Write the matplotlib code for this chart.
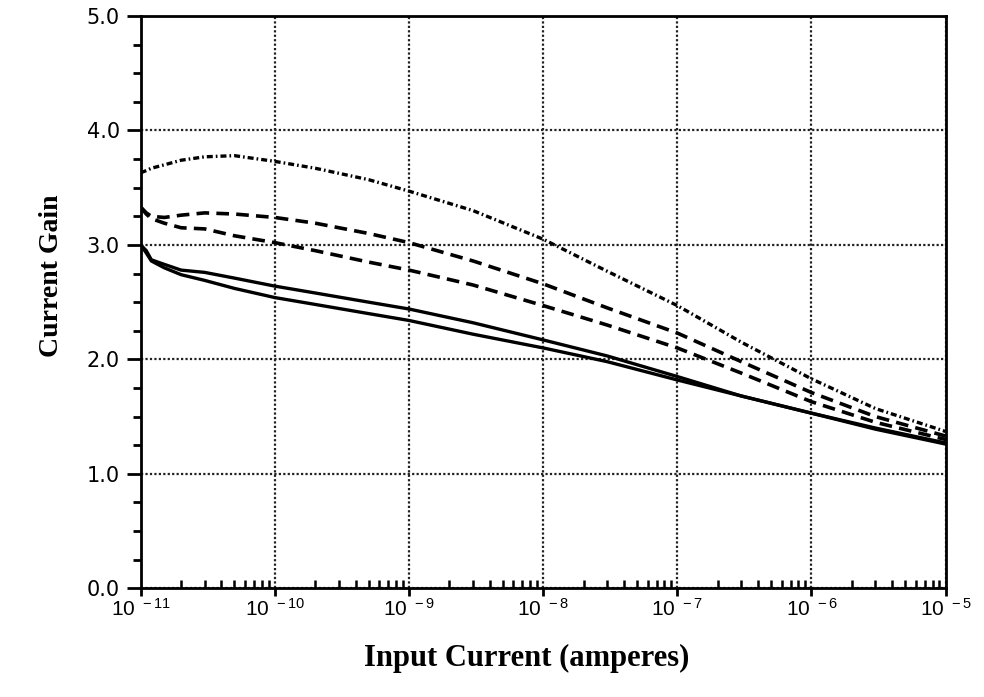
import numpy as np
import matplotlib
matplotlib.use("Agg")
import matplotlib.pyplot as plt
from matplotlib.ticker import MultipleLocator, LogLocator

plt.rcParams['font.family'] = ['Liberation Sans', 'DejaVu Sans']
plt.rcParams['mathtext.fontset'] = 'custom'
plt.rcParams['mathtext.rm'] = 'Liberation Sans'

x = [1e-11, 1.1e-11, 1.2e-11, 1.5e-11, 2e-11, 3e-11, 5e-11, 1e-10, 2e-10,
     5e-10, 1e-9, 3e-9, 1e-8, 3e-8, 1e-7, 3e-7, 1e-6, 3e-6, 1e-5]

# current gain curves
gain_dashdot = [3.63, 3.65, 3.67, 3.70, 3.74, 3.77, 3.78, 3.73, 3.67,
                3.57, 3.47, 3.30, 3.05, 2.77, 2.47, 2.15, 1.83, 1.57, 1.37]
gain_dash_hi = [3.33, 3.28, 3.25, 3.24, 3.26, 3.28, 3.27, 3.24, 3.19,
                3.10, 3.02, 2.86, 2.66, 2.45, 2.23, 1.98, 1.71, 1.50, 1.33]
gain_dash_lo = [3.33, 3.27, 3.23, 3.19, 3.15, 3.14, 3.08, 3.02, 2.95,
                2.85, 2.78, 2.65, 2.47, 2.30, 2.10, 1.88, 1.63, 1.45, 1.30]
gain_solid_hi = [3.00, 2.95, 2.87, 2.83, 2.78, 2.76, 2.71, 2.64, 2.58,
                 2.50, 2.44, 2.32, 2.17, 2.03, 1.85, 1.68, 1.53, 1.40, 1.27]
gain_solid_lo = [3.00, 2.93, 2.86, 2.80, 2.74, 2.69, 2.62, 2.54, 2.48,
                 2.40, 2.34, 2.22, 2.10, 1.98, 1.82, 1.68, 1.53, 1.39, 1.26]

yticks = [0.0, 1.0, 2.0, 3.0, 4.0, 5.0]
xticks = [1e-11, 1e-10, 1e-9, 1e-8, 1e-7, 1e-6, 1e-5]
xticklabels = [r'$\mathregular{10^{\ -11}}$', r'$\mathregular{10^{\ -10}}$',
               r'$\mathregular{10^{\ -9}}$', r'$\mathregular{10^{\ -8}}$',
               r'$\mathregular{10^{\ -7}}$', r'$\mathregular{10^{\ -6}}$',
               r'$\mathregular{10^{\ -5}}$']

fig = plt.figure(figsize=(9.84, 6.97), dpi=100)
ax = fig.add_axes([0.143, 0.156, 0.818, 0.821])

ax.plot(x, gain_dashdot, color='black', lw=2.4, ls=(0, (1.8, 0.9, 0.5, 0.9)))
ax.plot(x, gain_dash_hi, color='black', lw=2.6, ls=(0, (3.5, 2.0)))
ax.plot(x, gain_dash_lo, color='black', lw=2.6, ls=(0, (3.5, 2.0)))
ax.plot(x, gain_solid_hi, color='black', lw=2.4)
ax.plot(x, gain_solid_lo, color='black', lw=2.4)

ax.set_xscale('log')
ax.set_xlim(1e-11, 1e-5)
ax.set_ylim(0, 5)

ax.set_xticks(xticks)
ax.set_xticklabels(xticklabels, fontsize=15)
ax.xaxis.set_minor_locator(LogLocator(base=10, subs=np.arange(2, 10)))
ax.xaxis.set_minor_formatter(plt.NullFormatter())
ax.set_yticks(yticks)
ax.set_yticklabels(['%.1f' % v for v in yticks], fontsize=15, family='DejaVu Sans')
ax.yaxis.set_minor_locator(MultipleLocator(0.25))

ax.tick_params(axis='x', which='major', direction='out', length=6, width=2, pad=1)
ax.tick_params(axis='x', which='minor', direction='in', length=6, width=1.8)
ax.tick_params(axis='y', which='major', direction='out', length=10, width=2, pad=5)
ax.tick_params(axis='y', which='minor', direction='out', length=6, width=2)
ax.tick_params(top=False, right=False)

ax.grid(True, which='major', color='#222222', lw=1.6, ls=(0, (1, 1)))

for s in ax.spines.values():
    s.set_linewidth(2)

ax.set_xlabel('Input Current (amperes)', family='Liberation Serif',
              fontweight='bold', fontsize=22)
ax.set_ylabel('Current Gain', family='Liberation Serif',
              fontweight='bold', fontsize=20)
ax.yaxis.set_label_coords(-0.095, 0.547)
ax.xaxis.set_label_coords(0.48, -0.098)

fig.savefig('out.png', dpi=100)
